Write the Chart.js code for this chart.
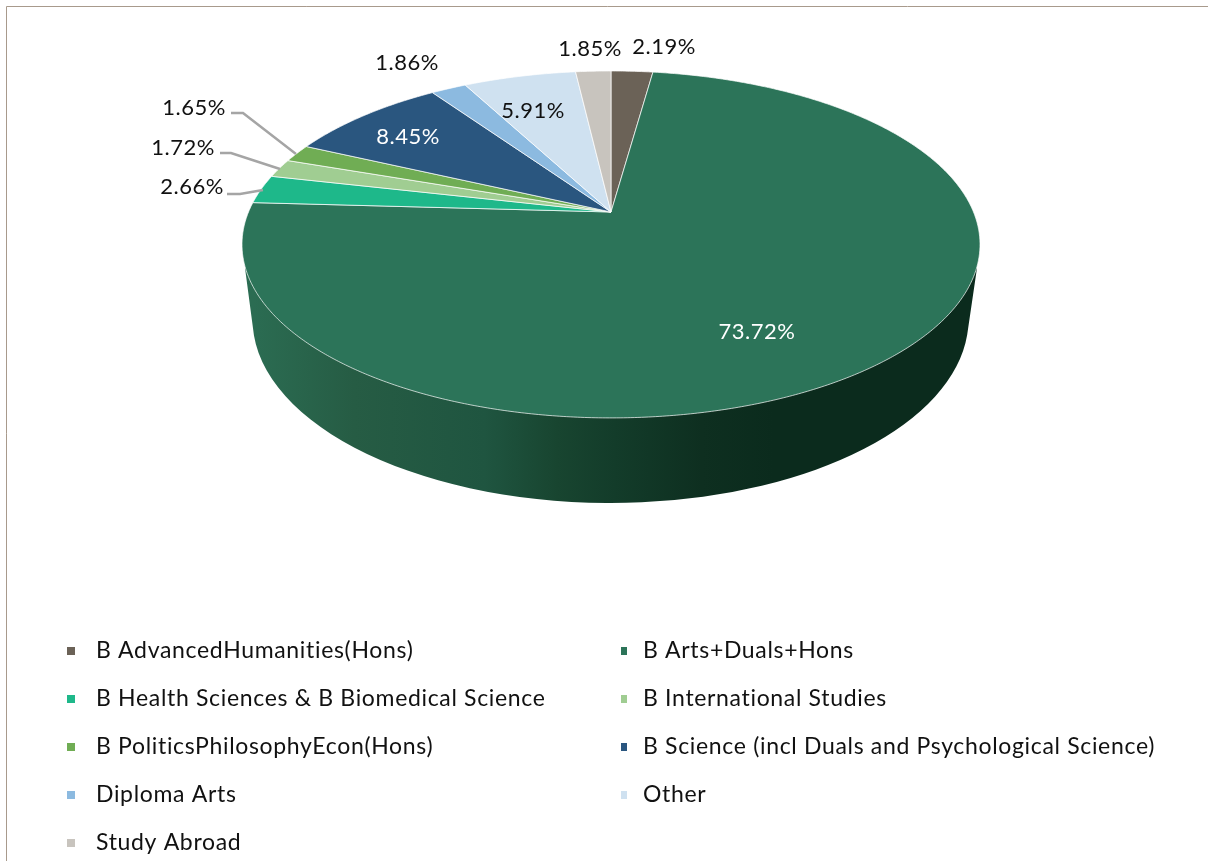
<!DOCTYPE html>
<html><head><meta charset="utf-8">
<style>html,body{margin:0;padding:0;background:#fff}canvas{display:block}</style>
<script src="https://cdn.jsdelivr.net/npm/chart.js@4"></script>
</head><body><canvas id="c" width="1208" height="861"></canvas>
<script>
const categories = ["B AdvancedHumanities(Hons)","B Arts+Duals+Hons","B Health Sciences & B Biomedical Science","B International Studies","B PoliticsPhilosophyEcon(Hons)","B Science (incl Duals and Psychological Science)","Diploma Arts","Other","Study Abroad"];
const shares = [2.19,73.72,2.66,1.72,1.65,8.45,1.86,5.91,1.85];
const sliceColors = ["#6b6257","#2c7459","#1eb88a","#a0cd92","#70ad54","#2a567f","#8cbae0","#cfe1f0","#c8c4be"];
const labelColors = ["#111","#fff","#111","#111","#111","#fff","#111","#111","#111"];
const labelAnchors = [[664,47],[757,332],[192,187],[183,148],[194,108],[408,137],[407,63],[533,111],[590,49]];
const leaders = {2:[[227,194],[240,194],[263,190]],3:[[220,153],[231,153],[280,169]],4:[[231,113],[243,113],[296,154]]};
const legendCols = [[67,96,8],[621,643,6]];
const legendRows = [651,699,747,795,843];
const FONT = 'Lato, Carlito, sans-serif';

// perspective of the pie's top face
const P = {cx:611, cy:212, A:362.5, B:167.4, k:0.187};
const project = a => { const w = 1 - P.k*Math.sin(a); return [P.cx + P.A*Math.cos(a)/w, P.cy + P.B*Math.sin(a)/w]; };

const pie3d = {
  id:'pie3d',
  beforeDatasetDraw(chart){
    const ctx = chart.ctx, arcs = chart.getDatasetMeta(0).data;
    ctx.save();
    // side wall
    const g = ctx.createLinearGradient(253,0,977,0);
    [[0,'#2b6c52'],[.14,'#265c44'],[.32,'#1f5540'],[.42,'#184530'],[.5,'#133c2a'],[.62,'#0e2f20'],[.72,'#0b2b1d'],[1,'#0b2b1d']].forEach(s=>g.addColorStop(s[0],s[1]));
    ctx.beginPath();
    ctx.moveTo(245,268); ctx.lineTo(253.9,335);
    ctx.ellipse(610.5,319,358,184,0,Math.PI-.087,.087,true);
    ctx.lineTo(977,268); ctx.closePath();
    ctx.fillStyle = g; ctx.fill();
    // top face
    arcs.forEach((arc,i)=>{
      const {startAngle:s,endAngle:e} = arc.getProps(['startAngle','endAngle'],true);
      ctx.beginPath(); ctx.moveTo(P.cx,P.cy);
      const n = Math.max(4,Math.ceil((e-s)/0.008));
      for(let j=0;j<=n;j++){ const p = project(s+(e-s)*j/n); ctx.lineTo(p[0],p[1]); }
      ctx.closePath();
      ctx.fillStyle = sliceColors[i]; ctx.fill();
      ctx.strokeStyle = 'rgba(255,255,255,.7)'; ctx.lineWidth = 1; ctx.lineJoin='round'; ctx.stroke();
    });
    ctx.restore();
    return false;
  },
  afterDraw(chart){
    const ctx = chart.ctx;
    ctx.save();
    // frame
    ctx.strokeStyle='#a89a8c'; ctx.lineWidth=1;
    ctx.beginPath(); ctx.moveTo(6.5,861); ctx.lineTo(6.5,6.5); ctx.lineTo(1208,6.5); ctx.stroke();
    // leader lines
    ctx.strokeStyle='#a5a5a5'; ctx.lineWidth=2.5;
    Object.values(leaders).forEach(l=>{ctx.beginPath();l.forEach((p,i)=>i?ctx.lineTo(p[0],p[1]):ctx.moveTo(p[0],p[1]));ctx.stroke();});
    // value labels
    ctx.font='22px '+FONT; ctx.textAlign='center'; ctx.textBaseline='middle'; ctx.letterSpacing='0.5px';
    shares.forEach((v,i)=>{ctx.fillStyle=labelColors[i];ctx.fillText(v.toFixed(2)+'%',labelAnchors[i][0],labelAnchors[i][1]);});
    // legend
    ctx.font='23px '+FONT; ctx.textAlign='left'; ctx.letterSpacing='0.67px';
    categories.forEach((name,i)=>{
      const col=legendCols[i%2], y=legendRows[Math.floor(i/2)];
      ctx.fillStyle=sliceColors[i]; ctx.fillRect(col[0],y-4,col[2],8);
      ctx.fillStyle='#111'; ctx.fillText(name,col[1],y);
    });
    ctx.restore();
  }
};
new Chart(document.getElementById('c'),{
  type:'pie',
  data:{labels:categories,datasets:[{data:shares,backgroundColor:sliceColors}]},
  options:{responsive:false,animation:false,layout:{padding:0},
    plugins:{legend:{display:false},tooltip:{enabled:false},title:{display:false}}},
  plugins:[pie3d]
});
</script></body></html>
